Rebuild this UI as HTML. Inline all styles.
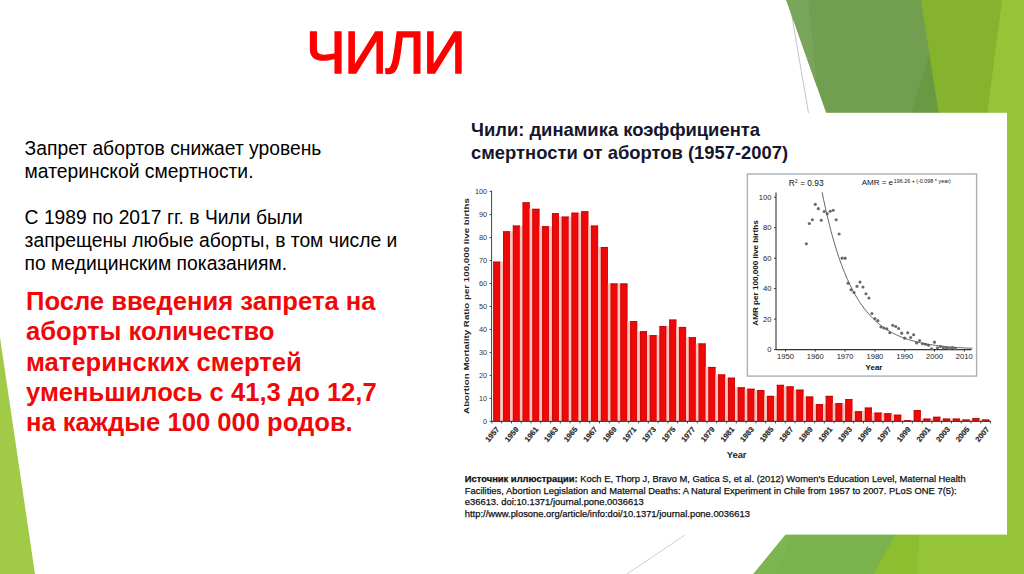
<!DOCTYPE html>
<html><head><meta charset="utf-8">
<style>
html,body{margin:0;padding:0;}
body{width:1024px;height:574px;position:relative;overflow:hidden;background:#fff;font-family:"Liberation Sans",Arial,sans-serif;}
.abs{position:absolute;}
svg text{font-family:"Liberation Sans",Arial,sans-serif;}
#title{left:306px;top:23px;font-size:59.5px;color:#ff0000;line-height:1;white-space:nowrap;-webkit-text-stroke:1.6px #ff0000;letter-spacing:-1.5px;}
#t1{left:24.6px;top:136.6px;font-size:19.3px;line-height:23px;color:#000;white-space:nowrap;}
#t2{left:26px;top:286px;font-size:25.6px;line-height:30.3px;color:#f00808;font-weight:bold;white-space:nowrap;}
</style></head><body>
<svg class="abs" style="left:0;top:0" width="1024" height="574" viewBox="0 0 1024 574">
<line x1="789.1" y1="0" x2="887.8" y2="574" stroke="#c2c2d0" stroke-width="1"/>
<line x1="1024" y1="306.7" x2="627" y2="574" stroke="#cfcfcf" stroke-width="1"/>
<polygon points="786.3,0 1024,0 1024,574 989,574" fill="#729e50"/>
<polygon points="786.3,0 808.3,0 817.4,88" fill="#79a55a"/>
<polygon points="929.5,54 939.8,120 909.4,120" fill="#6a9943"/>
<polygon points="921,0 1012,0 1000,120 939.8,120" fill="#86b32e"/>
<polygon points="1024,243.2 1024,574 753.4,574" fill="#7ab24b"/>
<polygon points="785.3,535 791,535 776,574 753.4,574" fill="#7eb553"/>
<polygon points="1024,299.2 1024,574 873.7,574" fill="#8cbe30"/>
<polygon points="1002,0 1024,0 1024,574 917.4,574 919.4,534.7 987.5,113" fill="#95c439"/>
<polygon points="0,337.5 0,574 35,574" fill="#a1ca47"/>
<rect x="443" y="112.8" width="564" height="421.8" fill="#ffffff"/>
<text x="471" y="136.1" font-family="Liberation Sans, Arial, sans-serif" font-weight="bold" font-size="18.4" fill="#16162a">Чили: динамика коэффициента</text>
<text x="471" y="159" font-family="Liberation Sans, Arial, sans-serif" font-weight="bold" font-size="18.4" fill="#16162a">смертности от абортов (1957-2007)</text>
<rect x="493.30" y="261.69" width="7.0" height="159.71" fill="#f00808"/>
<rect x="493.30" y="261.69" width="1" height="159.71" fill="#c80c0c"/>
<rect x="499.50" y="261.69" width="0.8" height="159.71" fill="#d00c0c"/>
<rect x="493.30" y="261.69" width="7.0" height="0.9" fill="#b80a0a"/>
<rect x="500.30" y="261.69" width="2.78" height="159.71" fill="#ffc4bc"/>
<rect x="503.08" y="231.36" width="7.0" height="190.04" fill="#f00808"/>
<rect x="503.08" y="231.36" width="1" height="190.04" fill="#c80c0c"/>
<rect x="509.28" y="231.36" width="0.8" height="190.04" fill="#d00c0c"/>
<rect x="503.08" y="231.36" width="7.0" height="0.9" fill="#b80a0a"/>
<rect x="510.08" y="231.36" width="2.78" height="190.04" fill="#ffc4bc"/>
<rect x="512.86" y="225.61" width="7.0" height="195.79" fill="#f00808"/>
<rect x="512.86" y="225.61" width="1" height="195.79" fill="#c80c0c"/>
<rect x="519.06" y="225.61" width="0.8" height="195.79" fill="#d00c0c"/>
<rect x="512.86" y="225.61" width="7.0" height="0.9" fill="#b80a0a"/>
<rect x="519.86" y="225.61" width="2.78" height="195.79" fill="#ffc4bc"/>
<rect x="522.63" y="202.40" width="7.0" height="219.00" fill="#f00808"/>
<rect x="522.63" y="202.40" width="1" height="219.00" fill="#c80c0c"/>
<rect x="528.83" y="202.40" width="0.8" height="219.00" fill="#d00c0c"/>
<rect x="522.63" y="202.40" width="7.0" height="0.9" fill="#b80a0a"/>
<rect x="529.63" y="208.83" width="2.78" height="212.56" fill="#ffc4bc"/>
<rect x="532.41" y="208.83" width="7.0" height="212.56" fill="#f00808"/>
<rect x="532.41" y="208.83" width="1" height="212.56" fill="#c80c0c"/>
<rect x="538.61" y="208.83" width="0.8" height="212.56" fill="#d00c0c"/>
<rect x="532.41" y="208.83" width="7.0" height="0.9" fill="#b80a0a"/>
<rect x="539.41" y="226.30" width="2.78" height="195.10" fill="#ffc4bc"/>
<rect x="542.19" y="226.30" width="7.0" height="195.10" fill="#f00808"/>
<rect x="542.19" y="226.30" width="1" height="195.10" fill="#c80c0c"/>
<rect x="548.39" y="226.30" width="0.8" height="195.10" fill="#d00c0c"/>
<rect x="542.19" y="226.30" width="7.0" height="0.9" fill="#b80a0a"/>
<rect x="549.19" y="226.30" width="2.78" height="195.10" fill="#ffc4bc"/>
<rect x="551.97" y="213.20" width="7.0" height="208.20" fill="#f00808"/>
<rect x="551.97" y="213.20" width="1" height="208.20" fill="#c80c0c"/>
<rect x="558.17" y="213.20" width="0.8" height="208.20" fill="#d00c0c"/>
<rect x="551.97" y="213.20" width="7.0" height="0.9" fill="#b80a0a"/>
<rect x="558.97" y="216.65" width="2.78" height="204.75" fill="#ffc4bc"/>
<rect x="561.75" y="216.65" width="7.0" height="204.75" fill="#f00808"/>
<rect x="561.75" y="216.65" width="1" height="204.75" fill="#c80c0c"/>
<rect x="567.95" y="216.65" width="0.8" height="204.75" fill="#d00c0c"/>
<rect x="561.75" y="216.65" width="7.0" height="0.9" fill="#b80a0a"/>
<rect x="568.75" y="216.65" width="2.78" height="204.75" fill="#ffc4bc"/>
<rect x="571.52" y="212.74" width="7.0" height="208.66" fill="#f00808"/>
<rect x="571.52" y="212.74" width="1" height="208.66" fill="#c80c0c"/>
<rect x="577.72" y="212.74" width="0.8" height="208.66" fill="#d00c0c"/>
<rect x="571.52" y="212.74" width="7.0" height="0.9" fill="#b80a0a"/>
<rect x="578.52" y="212.74" width="2.78" height="208.66" fill="#ffc4bc"/>
<rect x="581.30" y="211.36" width="7.0" height="210.04" fill="#f00808"/>
<rect x="581.30" y="211.36" width="1" height="210.04" fill="#c80c0c"/>
<rect x="587.50" y="211.36" width="0.8" height="210.04" fill="#d00c0c"/>
<rect x="581.30" y="211.36" width="7.0" height="0.9" fill="#b80a0a"/>
<rect x="588.30" y="225.61" width="2.78" height="195.79" fill="#ffc4bc"/>
<rect x="591.08" y="225.61" width="7.0" height="195.79" fill="#f00808"/>
<rect x="591.08" y="225.61" width="1" height="195.79" fill="#c80c0c"/>
<rect x="597.28" y="225.61" width="0.8" height="195.79" fill="#d00c0c"/>
<rect x="591.08" y="225.61" width="7.0" height="0.9" fill="#b80a0a"/>
<rect x="598.08" y="246.98" width="2.78" height="174.42" fill="#ffc4bc"/>
<rect x="600.86" y="246.98" width="7.0" height="174.42" fill="#f00808"/>
<rect x="600.86" y="246.98" width="1" height="174.42" fill="#c80c0c"/>
<rect x="607.06" y="246.98" width="0.8" height="174.42" fill="#d00c0c"/>
<rect x="600.86" y="246.98" width="7.0" height="0.9" fill="#b80a0a"/>
<rect x="607.86" y="283.52" width="2.78" height="137.88" fill="#ffc4bc"/>
<rect x="610.64" y="283.52" width="7.0" height="137.88" fill="#f00808"/>
<rect x="610.64" y="283.52" width="1" height="137.88" fill="#c80c0c"/>
<rect x="616.84" y="283.52" width="0.8" height="137.88" fill="#d00c0c"/>
<rect x="610.64" y="283.52" width="7.0" height="0.9" fill="#b80a0a"/>
<rect x="617.64" y="283.52" width="2.78" height="137.88" fill="#ffc4bc"/>
<rect x="620.41" y="283.52" width="7.0" height="137.88" fill="#f00808"/>
<rect x="620.41" y="283.52" width="1" height="137.88" fill="#c80c0c"/>
<rect x="626.61" y="283.52" width="0.8" height="137.88" fill="#d00c0c"/>
<rect x="620.41" y="283.52" width="7.0" height="0.9" fill="#b80a0a"/>
<rect x="627.41" y="321.21" width="2.78" height="100.19" fill="#ffc4bc"/>
<rect x="630.19" y="321.21" width="7.0" height="100.19" fill="#f00808"/>
<rect x="630.19" y="321.21" width="1" height="100.19" fill="#c80c0c"/>
<rect x="636.39" y="321.21" width="0.8" height="100.19" fill="#d00c0c"/>
<rect x="630.19" y="321.21" width="7.0" height="0.9" fill="#b80a0a"/>
<rect x="637.19" y="331.32" width="2.78" height="90.08" fill="#ffc4bc"/>
<rect x="639.97" y="331.32" width="7.0" height="90.08" fill="#f00808"/>
<rect x="639.97" y="331.32" width="1" height="90.08" fill="#c80c0c"/>
<rect x="646.17" y="331.32" width="0.8" height="90.08" fill="#d00c0c"/>
<rect x="639.97" y="331.32" width="7.0" height="0.9" fill="#b80a0a"/>
<rect x="646.97" y="335.22" width="2.78" height="86.17" fill="#ffc4bc"/>
<rect x="649.75" y="335.22" width="7.0" height="86.17" fill="#f00808"/>
<rect x="649.75" y="335.22" width="1" height="86.17" fill="#c80c0c"/>
<rect x="655.95" y="335.22" width="0.8" height="86.17" fill="#d00c0c"/>
<rect x="649.75" y="335.22" width="7.0" height="0.9" fill="#b80a0a"/>
<rect x="656.75" y="335.22" width="2.78" height="86.17" fill="#ffc4bc"/>
<rect x="659.53" y="326.03" width="7.0" height="95.37" fill="#f00808"/>
<rect x="659.53" y="326.03" width="1" height="95.37" fill="#c80c0c"/>
<rect x="665.73" y="326.03" width="0.8" height="95.37" fill="#d00c0c"/>
<rect x="659.53" y="326.03" width="7.0" height="0.9" fill="#b80a0a"/>
<rect x="666.53" y="326.03" width="2.78" height="95.37" fill="#ffc4bc"/>
<rect x="669.30" y="319.60" width="7.0" height="101.80" fill="#f00808"/>
<rect x="669.30" y="319.60" width="1" height="101.80" fill="#c80c0c"/>
<rect x="675.50" y="319.60" width="0.8" height="101.80" fill="#d00c0c"/>
<rect x="669.30" y="319.60" width="7.0" height="0.9" fill="#b80a0a"/>
<rect x="676.30" y="326.95" width="2.78" height="94.45" fill="#ffc4bc"/>
<rect x="679.08" y="326.95" width="7.0" height="94.45" fill="#f00808"/>
<rect x="679.08" y="326.95" width="1" height="94.45" fill="#c80c0c"/>
<rect x="685.28" y="326.95" width="0.8" height="94.45" fill="#d00c0c"/>
<rect x="679.08" y="326.95" width="7.0" height="0.9" fill="#b80a0a"/>
<rect x="686.08" y="337.29" width="2.78" height="84.11" fill="#ffc4bc"/>
<rect x="688.86" y="337.29" width="7.0" height="84.11" fill="#f00808"/>
<rect x="688.86" y="337.29" width="1" height="84.11" fill="#c80c0c"/>
<rect x="695.06" y="337.29" width="0.8" height="84.11" fill="#d00c0c"/>
<rect x="688.86" y="337.29" width="7.0" height="0.9" fill="#b80a0a"/>
<rect x="695.86" y="343.50" width="2.78" height="77.90" fill="#ffc4bc"/>
<rect x="698.64" y="343.50" width="7.0" height="77.90" fill="#f00808"/>
<rect x="698.64" y="343.50" width="1" height="77.90" fill="#c80c0c"/>
<rect x="704.84" y="343.50" width="0.8" height="77.90" fill="#d00c0c"/>
<rect x="698.64" y="343.50" width="7.0" height="0.9" fill="#b80a0a"/>
<rect x="705.64" y="366.94" width="2.78" height="54.46" fill="#ffc4bc"/>
<rect x="708.42" y="366.94" width="7.0" height="54.46" fill="#f00808"/>
<rect x="708.42" y="366.94" width="1" height="54.46" fill="#c80c0c"/>
<rect x="714.62" y="366.94" width="0.8" height="54.46" fill="#d00c0c"/>
<rect x="708.42" y="366.94" width="7.0" height="0.9" fill="#b80a0a"/>
<rect x="715.42" y="374.52" width="2.78" height="46.88" fill="#ffc4bc"/>
<rect x="718.19" y="374.52" width="7.0" height="46.88" fill="#f00808"/>
<rect x="718.19" y="374.52" width="1" height="46.88" fill="#c80c0c"/>
<rect x="724.39" y="374.52" width="0.8" height="46.88" fill="#d00c0c"/>
<rect x="718.19" y="374.52" width="7.0" height="0.9" fill="#b80a0a"/>
<rect x="725.19" y="377.74" width="2.78" height="43.66" fill="#ffc4bc"/>
<rect x="727.97" y="377.74" width="7.0" height="43.66" fill="#f00808"/>
<rect x="727.97" y="377.74" width="1" height="43.66" fill="#c80c0c"/>
<rect x="734.17" y="377.74" width="0.8" height="43.66" fill="#d00c0c"/>
<rect x="727.97" y="377.74" width="7.0" height="0.9" fill="#b80a0a"/>
<rect x="734.97" y="387.39" width="2.78" height="34.01" fill="#ffc4bc"/>
<rect x="737.75" y="387.39" width="7.0" height="34.01" fill="#f00808"/>
<rect x="737.75" y="387.39" width="1" height="34.01" fill="#c80c0c"/>
<rect x="743.95" y="387.39" width="0.8" height="34.01" fill="#d00c0c"/>
<rect x="737.75" y="387.39" width="7.0" height="0.9" fill="#b80a0a"/>
<rect x="744.75" y="388.77" width="2.78" height="32.63" fill="#ffc4bc"/>
<rect x="747.53" y="388.77" width="7.0" height="32.63" fill="#f00808"/>
<rect x="747.53" y="388.77" width="1" height="32.63" fill="#c80c0c"/>
<rect x="753.73" y="388.77" width="0.8" height="32.63" fill="#d00c0c"/>
<rect x="747.53" y="388.77" width="7.0" height="0.9" fill="#b80a0a"/>
<rect x="754.53" y="390.15" width="2.78" height="31.25" fill="#ffc4bc"/>
<rect x="757.31" y="390.15" width="7.0" height="31.25" fill="#f00808"/>
<rect x="757.31" y="390.15" width="1" height="31.25" fill="#c80c0c"/>
<rect x="763.51" y="390.15" width="0.8" height="31.25" fill="#d00c0c"/>
<rect x="757.31" y="390.15" width="7.0" height="0.9" fill="#b80a0a"/>
<rect x="764.31" y="395.89" width="2.78" height="25.51" fill="#ffc4bc"/>
<rect x="767.08" y="395.89" width="7.0" height="25.51" fill="#f00808"/>
<rect x="767.08" y="395.89" width="1" height="25.51" fill="#c80c0c"/>
<rect x="773.28" y="395.89" width="0.8" height="25.51" fill="#d00c0c"/>
<rect x="767.08" y="395.89" width="7.0" height="0.9" fill="#b80a0a"/>
<rect x="774.08" y="395.89" width="2.78" height="25.51" fill="#ffc4bc"/>
<rect x="776.86" y="384.86" width="7.0" height="36.54" fill="#f00808"/>
<rect x="776.86" y="384.86" width="1" height="36.54" fill="#c80c0c"/>
<rect x="783.06" y="384.86" width="0.8" height="36.54" fill="#d00c0c"/>
<rect x="776.86" y="384.86" width="7.0" height="0.9" fill="#b80a0a"/>
<rect x="783.86" y="386.47" width="2.78" height="34.93" fill="#ffc4bc"/>
<rect x="786.64" y="386.47" width="7.0" height="34.93" fill="#f00808"/>
<rect x="786.64" y="386.47" width="1" height="34.93" fill="#c80c0c"/>
<rect x="792.84" y="386.47" width="0.8" height="34.93" fill="#d00c0c"/>
<rect x="786.64" y="386.47" width="7.0" height="0.9" fill="#b80a0a"/>
<rect x="793.64" y="389.69" width="2.78" height="31.71" fill="#ffc4bc"/>
<rect x="796.42" y="389.69" width="7.0" height="31.71" fill="#f00808"/>
<rect x="796.42" y="389.69" width="1" height="31.71" fill="#c80c0c"/>
<rect x="802.62" y="389.69" width="0.8" height="31.71" fill="#d00c0c"/>
<rect x="796.42" y="389.69" width="7.0" height="0.9" fill="#b80a0a"/>
<rect x="803.42" y="396.58" width="2.78" height="24.82" fill="#ffc4bc"/>
<rect x="806.20" y="396.58" width="7.0" height="24.82" fill="#f00808"/>
<rect x="806.20" y="396.58" width="1" height="24.82" fill="#c80c0c"/>
<rect x="812.40" y="396.58" width="0.8" height="24.82" fill="#d00c0c"/>
<rect x="806.20" y="396.58" width="7.0" height="0.9" fill="#b80a0a"/>
<rect x="813.20" y="404.16" width="2.78" height="17.23" fill="#ffc4bc"/>
<rect x="815.97" y="404.16" width="7.0" height="17.23" fill="#f00808"/>
<rect x="815.97" y="404.16" width="1" height="17.23" fill="#c80c0c"/>
<rect x="822.17" y="404.16" width="0.8" height="17.23" fill="#d00c0c"/>
<rect x="815.97" y="404.16" width="7.0" height="0.9" fill="#b80a0a"/>
<rect x="822.97" y="404.16" width="2.78" height="17.23" fill="#ffc4bc"/>
<rect x="825.75" y="395.89" width="7.0" height="25.51" fill="#f00808"/>
<rect x="825.75" y="395.89" width="1" height="25.51" fill="#c80c0c"/>
<rect x="831.95" y="395.89" width="0.8" height="25.51" fill="#d00c0c"/>
<rect x="825.75" y="395.89" width="7.0" height="0.9" fill="#b80a0a"/>
<rect x="832.75" y="403.25" width="2.78" height="18.15" fill="#ffc4bc"/>
<rect x="835.53" y="403.25" width="7.0" height="18.15" fill="#f00808"/>
<rect x="835.53" y="403.25" width="1" height="18.15" fill="#c80c0c"/>
<rect x="841.73" y="403.25" width="0.8" height="18.15" fill="#d00c0c"/>
<rect x="835.53" y="403.25" width="7.0" height="0.9" fill="#b80a0a"/>
<rect x="842.53" y="403.25" width="2.78" height="18.15" fill="#ffc4bc"/>
<rect x="845.31" y="399.11" width="7.0" height="22.29" fill="#f00808"/>
<rect x="845.31" y="399.11" width="1" height="22.29" fill="#c80c0c"/>
<rect x="851.51" y="399.11" width="0.8" height="22.29" fill="#d00c0c"/>
<rect x="845.31" y="399.11" width="7.0" height="0.9" fill="#b80a0a"/>
<rect x="852.31" y="411.29" width="2.78" height="10.11" fill="#ffc4bc"/>
<rect x="855.09" y="411.29" width="7.0" height="10.11" fill="#f00808"/>
<rect x="855.09" y="411.29" width="1" height="10.11" fill="#c80c0c"/>
<rect x="861.29" y="411.29" width="0.8" height="10.11" fill="#d00c0c"/>
<rect x="855.09" y="411.29" width="7.0" height="0.9" fill="#b80a0a"/>
<rect x="862.09" y="411.29" width="2.78" height="10.11" fill="#ffc4bc"/>
<rect x="864.86" y="407.61" width="7.0" height="13.79" fill="#f00808"/>
<rect x="864.86" y="407.61" width="1" height="13.79" fill="#c80c0c"/>
<rect x="871.06" y="407.61" width="0.8" height="13.79" fill="#d00c0c"/>
<rect x="864.86" y="407.61" width="7.0" height="0.9" fill="#b80a0a"/>
<rect x="871.86" y="412.67" width="2.78" height="8.73" fill="#ffc4bc"/>
<rect x="874.64" y="412.67" width="7.0" height="8.73" fill="#f00808"/>
<rect x="874.64" y="412.67" width="1" height="8.73" fill="#c80c0c"/>
<rect x="880.84" y="412.67" width="0.8" height="8.73" fill="#d00c0c"/>
<rect x="874.64" y="412.67" width="7.0" height="0.9" fill="#b80a0a"/>
<rect x="881.64" y="413.36" width="2.78" height="8.04" fill="#ffc4bc"/>
<rect x="884.42" y="413.36" width="7.0" height="8.04" fill="#f00808"/>
<rect x="884.42" y="413.36" width="1" height="8.04" fill="#c80c0c"/>
<rect x="890.62" y="413.36" width="0.8" height="8.04" fill="#d00c0c"/>
<rect x="884.42" y="413.36" width="7.0" height="0.9" fill="#b80a0a"/>
<rect x="891.42" y="414.74" width="2.78" height="6.66" fill="#ffc4bc"/>
<rect x="894.20" y="414.74" width="7.0" height="6.66" fill="#f00808"/>
<rect x="894.20" y="414.74" width="1" height="6.66" fill="#c80c0c"/>
<rect x="900.40" y="414.74" width="0.8" height="6.66" fill="#d00c0c"/>
<rect x="894.20" y="414.74" width="7.0" height="0.9" fill="#b80a0a"/>
<rect x="901.20" y="420.02" width="2.78" height="1.38" fill="#ffc4bc"/>
<rect x="903.98" y="420.02" width="7.0" height="1.38" fill="#f00808"/>
<rect x="903.98" y="420.02" width="1" height="1.38" fill="#c80c0c"/>
<rect x="910.18" y="420.02" width="0.8" height="1.38" fill="#d00c0c"/>
<rect x="903.98" y="420.02" width="7.0" height="0.9" fill="#b80a0a"/>
<rect x="910.98" y="420.02" width="2.78" height="1.38" fill="#ffc4bc"/>
<rect x="913.75" y="410.14" width="7.0" height="11.26" fill="#f00808"/>
<rect x="913.75" y="410.14" width="1" height="11.26" fill="#c80c0c"/>
<rect x="919.95" y="410.14" width="0.8" height="11.26" fill="#d00c0c"/>
<rect x="913.75" y="410.14" width="7.0" height="0.9" fill="#b80a0a"/>
<rect x="920.75" y="418.64" width="2.78" height="2.76" fill="#ffc4bc"/>
<rect x="923.53" y="418.64" width="7.0" height="2.76" fill="#f00808"/>
<rect x="923.53" y="418.64" width="1" height="2.76" fill="#c80c0c"/>
<rect x="929.73" y="418.64" width="0.8" height="2.76" fill="#d00c0c"/>
<rect x="923.53" y="418.64" width="7.0" height="0.9" fill="#b80a0a"/>
<rect x="930.53" y="418.64" width="2.78" height="2.76" fill="#ffc4bc"/>
<rect x="933.31" y="416.80" width="7.0" height="4.60" fill="#f00808"/>
<rect x="933.31" y="416.80" width="1" height="4.60" fill="#c80c0c"/>
<rect x="939.51" y="416.80" width="0.8" height="4.60" fill="#d00c0c"/>
<rect x="933.31" y="416.80" width="7.0" height="0.9" fill="#b80a0a"/>
<rect x="940.31" y="418.64" width="2.78" height="2.76" fill="#ffc4bc"/>
<rect x="943.09" y="418.64" width="7.0" height="2.76" fill="#f00808"/>
<rect x="943.09" y="418.64" width="1" height="2.76" fill="#c80c0c"/>
<rect x="949.29" y="418.64" width="0.8" height="2.76" fill="#d00c0c"/>
<rect x="943.09" y="418.64" width="7.0" height="0.9" fill="#b80a0a"/>
<rect x="950.09" y="418.64" width="2.78" height="2.76" fill="#ffc4bc"/>
<rect x="952.87" y="418.64" width="7.0" height="2.76" fill="#f00808"/>
<rect x="952.87" y="418.64" width="1" height="2.76" fill="#c80c0c"/>
<rect x="959.07" y="418.64" width="0.8" height="2.76" fill="#d00c0c"/>
<rect x="952.87" y="418.64" width="7.0" height="0.9" fill="#b80a0a"/>
<rect x="959.87" y="419.56" width="2.78" height="1.84" fill="#ffc4bc"/>
<rect x="962.64" y="419.56" width="7.0" height="1.84" fill="#f00808"/>
<rect x="962.64" y="419.56" width="1" height="1.84" fill="#c80c0c"/>
<rect x="968.84" y="419.56" width="0.8" height="1.84" fill="#d00c0c"/>
<rect x="962.64" y="419.56" width="7.0" height="0.9" fill="#b80a0a"/>
<rect x="969.64" y="419.56" width="2.78" height="1.84" fill="#ffc4bc"/>
<rect x="972.42" y="418.18" width="7.0" height="3.22" fill="#f00808"/>
<rect x="972.42" y="418.18" width="1" height="3.22" fill="#c80c0c"/>
<rect x="978.62" y="418.18" width="0.8" height="3.22" fill="#d00c0c"/>
<rect x="972.42" y="418.18" width="7.0" height="0.9" fill="#b80a0a"/>
<rect x="979.42" y="419.56" width="2.78" height="1.84" fill="#ffc4bc"/>
<rect x="982.20" y="419.56" width="7.0" height="1.84" fill="#f00808"/>
<rect x="982.20" y="419.56" width="1" height="1.84" fill="#c80c0c"/>
<rect x="988.40" y="419.56" width="0.8" height="1.84" fill="#d00c0c"/>
<rect x="982.20" y="419.56" width="7.0" height="0.9" fill="#b80a0a"/>
<line x1="491.6" y1="190.5" x2="491.6" y2="421.4" stroke="#444" stroke-width="1"/>
<line x1="491.6" y1="421.4" x2="990.9780000000001" y2="421.4" stroke="#444" stroke-width="1.2"/>
<line x1="489.6" y1="421.40" x2="491.6" y2="421.40" stroke="#444" stroke-width="1"/>
<text x="487.1" y="423.90" text-anchor="end" font-size="7.3" fill="#333">0</text>
<line x1="489.6" y1="398.42" x2="491.6" y2="398.42" stroke="#444" stroke-width="1"/>
<text x="487.1" y="400.92" text-anchor="end" font-size="7.3" fill="#333">10</text>
<line x1="489.6" y1="375.44" x2="491.6" y2="375.44" stroke="#444" stroke-width="1"/>
<text x="487.1" y="377.94" text-anchor="end" font-size="7.3" fill="#333">20</text>
<line x1="489.6" y1="352.46" x2="491.6" y2="352.46" stroke="#444" stroke-width="1"/>
<text x="487.1" y="354.96" text-anchor="end" font-size="7.3" fill="#333">30</text>
<line x1="489.6" y1="329.48" x2="491.6" y2="329.48" stroke="#444" stroke-width="1"/>
<text x="487.1" y="331.98" text-anchor="end" font-size="7.3" fill="#333">40</text>
<line x1="489.6" y1="306.50" x2="491.6" y2="306.50" stroke="#444" stroke-width="1"/>
<text x="487.1" y="309.00" text-anchor="end" font-size="7.3" fill="#333">50</text>
<line x1="489.6" y1="283.52" x2="491.6" y2="283.52" stroke="#444" stroke-width="1"/>
<text x="487.1" y="286.02" text-anchor="end" font-size="7.3" fill="#333">60</text>
<line x1="489.6" y1="260.54" x2="491.6" y2="260.54" stroke="#444" stroke-width="1"/>
<text x="487.1" y="263.04" text-anchor="end" font-size="7.3" fill="#333">70</text>
<line x1="489.6" y1="237.56" x2="491.6" y2="237.56" stroke="#444" stroke-width="1"/>
<text x="487.1" y="240.06" text-anchor="end" font-size="7.3" fill="#333">80</text>
<line x1="489.6" y1="214.58" x2="491.6" y2="214.58" stroke="#444" stroke-width="1"/>
<text x="487.1" y="217.08" text-anchor="end" font-size="7.3" fill="#333">90</text>
<line x1="489.6" y1="191.60" x2="491.6" y2="191.60" stroke="#444" stroke-width="1"/>
<text x="487.1" y="194.10" text-anchor="end" font-size="7.3" fill="#333">100</text>
<line x1="491.90" y1="421.4" x2="491.90" y2="423.4" stroke="#444" stroke-width="1"/>
<line x1="501.68" y1="421.4" x2="501.68" y2="423.4" stroke="#444" stroke-width="1"/>
<line x1="511.46" y1="421.4" x2="511.46" y2="423.4" stroke="#444" stroke-width="1"/>
<line x1="521.23" y1="421.4" x2="521.23" y2="423.4" stroke="#444" stroke-width="1"/>
<line x1="531.01" y1="421.4" x2="531.01" y2="423.4" stroke="#444" stroke-width="1"/>
<line x1="540.79" y1="421.4" x2="540.79" y2="423.4" stroke="#444" stroke-width="1"/>
<line x1="550.57" y1="421.4" x2="550.57" y2="423.4" stroke="#444" stroke-width="1"/>
<line x1="560.35" y1="421.4" x2="560.35" y2="423.4" stroke="#444" stroke-width="1"/>
<line x1="570.12" y1="421.4" x2="570.12" y2="423.4" stroke="#444" stroke-width="1"/>
<line x1="579.90" y1="421.4" x2="579.90" y2="423.4" stroke="#444" stroke-width="1"/>
<line x1="589.68" y1="421.4" x2="589.68" y2="423.4" stroke="#444" stroke-width="1"/>
<line x1="599.46" y1="421.4" x2="599.46" y2="423.4" stroke="#444" stroke-width="1"/>
<line x1="609.24" y1="421.4" x2="609.24" y2="423.4" stroke="#444" stroke-width="1"/>
<line x1="619.01" y1="421.4" x2="619.01" y2="423.4" stroke="#444" stroke-width="1"/>
<line x1="628.79" y1="421.4" x2="628.79" y2="423.4" stroke="#444" stroke-width="1"/>
<line x1="638.57" y1="421.4" x2="638.57" y2="423.4" stroke="#444" stroke-width="1"/>
<line x1="648.35" y1="421.4" x2="648.35" y2="423.4" stroke="#444" stroke-width="1"/>
<line x1="658.13" y1="421.4" x2="658.13" y2="423.4" stroke="#444" stroke-width="1"/>
<line x1="667.90" y1="421.4" x2="667.90" y2="423.4" stroke="#444" stroke-width="1"/>
<line x1="677.68" y1="421.4" x2="677.68" y2="423.4" stroke="#444" stroke-width="1"/>
<line x1="687.46" y1="421.4" x2="687.46" y2="423.4" stroke="#444" stroke-width="1"/>
<line x1="697.24" y1="421.4" x2="697.24" y2="423.4" stroke="#444" stroke-width="1"/>
<line x1="707.02" y1="421.4" x2="707.02" y2="423.4" stroke="#444" stroke-width="1"/>
<line x1="716.79" y1="421.4" x2="716.79" y2="423.4" stroke="#444" stroke-width="1"/>
<line x1="726.57" y1="421.4" x2="726.57" y2="423.4" stroke="#444" stroke-width="1"/>
<line x1="736.35" y1="421.4" x2="736.35" y2="423.4" stroke="#444" stroke-width="1"/>
<line x1="746.13" y1="421.4" x2="746.13" y2="423.4" stroke="#444" stroke-width="1"/>
<line x1="755.91" y1="421.4" x2="755.91" y2="423.4" stroke="#444" stroke-width="1"/>
<line x1="765.68" y1="421.4" x2="765.68" y2="423.4" stroke="#444" stroke-width="1"/>
<line x1="775.46" y1="421.4" x2="775.46" y2="423.4" stroke="#444" stroke-width="1"/>
<line x1="785.24" y1="421.4" x2="785.24" y2="423.4" stroke="#444" stroke-width="1"/>
<line x1="795.02" y1="421.4" x2="795.02" y2="423.4" stroke="#444" stroke-width="1"/>
<line x1="804.80" y1="421.4" x2="804.80" y2="423.4" stroke="#444" stroke-width="1"/>
<line x1="814.57" y1="421.4" x2="814.57" y2="423.4" stroke="#444" stroke-width="1"/>
<line x1="824.35" y1="421.4" x2="824.35" y2="423.4" stroke="#444" stroke-width="1"/>
<line x1="834.13" y1="421.4" x2="834.13" y2="423.4" stroke="#444" stroke-width="1"/>
<line x1="843.91" y1="421.4" x2="843.91" y2="423.4" stroke="#444" stroke-width="1"/>
<line x1="853.69" y1="421.4" x2="853.69" y2="423.4" stroke="#444" stroke-width="1"/>
<line x1="863.46" y1="421.4" x2="863.46" y2="423.4" stroke="#444" stroke-width="1"/>
<line x1="873.24" y1="421.4" x2="873.24" y2="423.4" stroke="#444" stroke-width="1"/>
<line x1="883.02" y1="421.4" x2="883.02" y2="423.4" stroke="#444" stroke-width="1"/>
<line x1="892.80" y1="421.4" x2="892.80" y2="423.4" stroke="#444" stroke-width="1"/>
<line x1="902.58" y1="421.4" x2="902.58" y2="423.4" stroke="#444" stroke-width="1"/>
<line x1="912.35" y1="421.4" x2="912.35" y2="423.4" stroke="#444" stroke-width="1"/>
<line x1="922.13" y1="421.4" x2="922.13" y2="423.4" stroke="#444" stroke-width="1"/>
<line x1="931.91" y1="421.4" x2="931.91" y2="423.4" stroke="#444" stroke-width="1"/>
<line x1="941.69" y1="421.4" x2="941.69" y2="423.4" stroke="#444" stroke-width="1"/>
<line x1="951.47" y1="421.4" x2="951.47" y2="423.4" stroke="#444" stroke-width="1"/>
<line x1="961.24" y1="421.4" x2="961.24" y2="423.4" stroke="#444" stroke-width="1"/>
<line x1="971.02" y1="421.4" x2="971.02" y2="423.4" stroke="#444" stroke-width="1"/>
<line x1="980.80" y1="421.4" x2="980.80" y2="423.4" stroke="#444" stroke-width="1"/>
<line x1="990.58" y1="421.4" x2="990.58" y2="423.4" stroke="#444" stroke-width="1"/>
<text transform="translate(499.60,429.5) rotate(-50)" text-anchor="end" font-size="7.6" font-weight="bold" fill="#2a2a2a" stroke="#2a2a2a" stroke-width="0.2">1957</text>
<text transform="translate(519.20,429.5) rotate(-50)" text-anchor="end" font-size="7.6" font-weight="bold" fill="#2a2a2a" stroke="#2a2a2a" stroke-width="0.2">1959</text>
<text transform="translate(538.80,429.5) rotate(-50)" text-anchor="end" font-size="7.6" font-weight="bold" fill="#2a2a2a" stroke="#2a2a2a" stroke-width="0.2">1961</text>
<text transform="translate(558.40,429.5) rotate(-50)" text-anchor="end" font-size="7.6" font-weight="bold" fill="#2a2a2a" stroke="#2a2a2a" stroke-width="0.2">1963</text>
<text transform="translate(578.00,429.5) rotate(-50)" text-anchor="end" font-size="7.6" font-weight="bold" fill="#2a2a2a" stroke="#2a2a2a" stroke-width="0.2">1965</text>
<text transform="translate(597.60,429.5) rotate(-50)" text-anchor="end" font-size="7.6" font-weight="bold" fill="#2a2a2a" stroke="#2a2a2a" stroke-width="0.2">1967</text>
<text transform="translate(617.20,429.5) rotate(-50)" text-anchor="end" font-size="7.6" font-weight="bold" fill="#2a2a2a" stroke="#2a2a2a" stroke-width="0.2">1969</text>
<text transform="translate(636.80,429.5) rotate(-50)" text-anchor="end" font-size="7.6" font-weight="bold" fill="#2a2a2a" stroke="#2a2a2a" stroke-width="0.2">1971</text>
<text transform="translate(656.40,429.5) rotate(-50)" text-anchor="end" font-size="7.6" font-weight="bold" fill="#2a2a2a" stroke="#2a2a2a" stroke-width="0.2">1973</text>
<text transform="translate(676.00,429.5) rotate(-50)" text-anchor="end" font-size="7.6" font-weight="bold" fill="#2a2a2a" stroke="#2a2a2a" stroke-width="0.2">1975</text>
<text transform="translate(695.60,429.5) rotate(-50)" text-anchor="end" font-size="7.6" font-weight="bold" fill="#2a2a2a" stroke="#2a2a2a" stroke-width="0.2">1977</text>
<text transform="translate(715.20,429.5) rotate(-50)" text-anchor="end" font-size="7.6" font-weight="bold" fill="#2a2a2a" stroke="#2a2a2a" stroke-width="0.2">1979</text>
<text transform="translate(734.80,429.5) rotate(-50)" text-anchor="end" font-size="7.6" font-weight="bold" fill="#2a2a2a" stroke="#2a2a2a" stroke-width="0.2">1981</text>
<text transform="translate(754.40,429.5) rotate(-50)" text-anchor="end" font-size="7.6" font-weight="bold" fill="#2a2a2a" stroke="#2a2a2a" stroke-width="0.2">1983</text>
<text transform="translate(774.00,429.5) rotate(-50)" text-anchor="end" font-size="7.6" font-weight="bold" fill="#2a2a2a" stroke="#2a2a2a" stroke-width="0.2">1985</text>
<text transform="translate(793.60,429.5) rotate(-50)" text-anchor="end" font-size="7.6" font-weight="bold" fill="#2a2a2a" stroke="#2a2a2a" stroke-width="0.2">1987</text>
<text transform="translate(813.20,429.5) rotate(-50)" text-anchor="end" font-size="7.6" font-weight="bold" fill="#2a2a2a" stroke="#2a2a2a" stroke-width="0.2">1989</text>
<text transform="translate(832.80,429.5) rotate(-50)" text-anchor="end" font-size="7.6" font-weight="bold" fill="#2a2a2a" stroke="#2a2a2a" stroke-width="0.2">1991</text>
<text transform="translate(852.40,429.5) rotate(-50)" text-anchor="end" font-size="7.6" font-weight="bold" fill="#2a2a2a" stroke="#2a2a2a" stroke-width="0.2">1993</text>
<text transform="translate(872.00,429.5) rotate(-50)" text-anchor="end" font-size="7.6" font-weight="bold" fill="#2a2a2a" stroke="#2a2a2a" stroke-width="0.2">1995</text>
<text transform="translate(891.60,429.5) rotate(-50)" text-anchor="end" font-size="7.6" font-weight="bold" fill="#2a2a2a" stroke="#2a2a2a" stroke-width="0.2">1997</text>
<text transform="translate(911.20,429.5) rotate(-50)" text-anchor="end" font-size="7.6" font-weight="bold" fill="#2a2a2a" stroke="#2a2a2a" stroke-width="0.2">1999</text>
<text transform="translate(930.80,429.5) rotate(-50)" text-anchor="end" font-size="7.6" font-weight="bold" fill="#2a2a2a" stroke="#2a2a2a" stroke-width="0.2">2001</text>
<text transform="translate(950.40,429.5) rotate(-50)" text-anchor="end" font-size="7.6" font-weight="bold" fill="#2a2a2a" stroke="#2a2a2a" stroke-width="0.2">2003</text>
<text transform="translate(970.00,429.5) rotate(-50)" text-anchor="end" font-size="7.6" font-weight="bold" fill="#2a2a2a" stroke="#2a2a2a" stroke-width="0.2">2005</text>
<text transform="translate(989.60,429.5) rotate(-50)" text-anchor="end" font-size="7.6" font-weight="bold" fill="#2a2a2a" stroke="#2a2a2a" stroke-width="0.2">2007</text>
<text x="736.6" y="458.4" text-anchor="middle" font-size="9.4" font-weight="bold" fill="#222">Year</text>
<text transform="translate(468.8,306) rotate(-90) scale(1.32,1)" text-anchor="middle" font-size="7.4" font-weight="bold" fill="#222">Abortion Mortality Ratio per 100,000 live births</text>
<rect x="747.4" y="174" width="229.2" height="202.1" fill="#fff" stroke="#a8b0b6" stroke-width="1.4"/>
<line x1="776" y1="192.5" x2="776" y2="349.6" stroke="#333" stroke-width="1.1"/>
<line x1="776" y1="349.6" x2="971.5" y2="349.6" stroke="#333" stroke-width="1.1"/>
<line x1="774" y1="349.60" x2="776" y2="349.60" stroke="#333" stroke-width="1"/>
<text x="771.5" y="352.40" text-anchor="end" font-size="7.6" fill="#222">0</text>
<line x1="774" y1="319.12" x2="776" y2="319.12" stroke="#333" stroke-width="1"/>
<text x="771.5" y="321.92" text-anchor="end" font-size="7.6" fill="#222">20</text>
<line x1="774" y1="288.64" x2="776" y2="288.64" stroke="#333" stroke-width="1"/>
<text x="771.5" y="291.44" text-anchor="end" font-size="7.6" fill="#222">40</text>
<line x1="774" y1="258.16" x2="776" y2="258.16" stroke="#333" stroke-width="1"/>
<text x="771.5" y="260.96" text-anchor="end" font-size="7.6" fill="#222">60</text>
<line x1="774" y1="227.68" x2="776" y2="227.68" stroke="#333" stroke-width="1"/>
<text x="771.5" y="230.48" text-anchor="end" font-size="7.6" fill="#222">80</text>
<line x1="774" y1="197.20" x2="776" y2="197.20" stroke="#333" stroke-width="1"/>
<text x="771.5" y="200.00" text-anchor="end" font-size="7.6" fill="#222">100</text>
<line x1="785.50" y1="349.6" x2="785.50" y2="351.6" stroke="#333" stroke-width="1"/>
<text x="785.50" y="359.2" text-anchor="middle" font-size="7.6" fill="#222">1950</text>
<line x1="815.30" y1="349.6" x2="815.30" y2="351.6" stroke="#333" stroke-width="1"/>
<text x="815.30" y="359.2" text-anchor="middle" font-size="7.6" fill="#222">1960</text>
<line x1="845.10" y1="349.6" x2="845.10" y2="351.6" stroke="#333" stroke-width="1"/>
<text x="845.10" y="359.2" text-anchor="middle" font-size="7.6" fill="#222">1970</text>
<line x1="874.90" y1="349.6" x2="874.90" y2="351.6" stroke="#333" stroke-width="1"/>
<text x="874.90" y="359.2" text-anchor="middle" font-size="7.6" fill="#222">1980</text>
<line x1="904.70" y1="349.6" x2="904.70" y2="351.6" stroke="#333" stroke-width="1"/>
<text x="904.70" y="359.2" text-anchor="middle" font-size="7.6" fill="#222">1990</text>
<line x1="934.50" y1="349.6" x2="934.50" y2="351.6" stroke="#333" stroke-width="1"/>
<text x="934.50" y="359.2" text-anchor="middle" font-size="7.6" fill="#222">2000</text>
<line x1="964.30" y1="349.6" x2="964.30" y2="351.6" stroke="#333" stroke-width="1"/>
<text x="964.30" y="359.2" text-anchor="middle" font-size="7.6" fill="#222">2010</text>
<text x="874" y="369.5" text-anchor="middle" font-size="8" font-weight="bold" fill="#111">Year</text>
<text transform="translate(757.5,273) rotate(-90)" text-anchor="middle" font-size="8.1" font-weight="bold" fill="#111">AMR per 100,000 live births</text>
<text x="788.7" y="186" font-size="8.4" fill="#111">R<tspan dy="-3" font-size="5.5">2</tspan><tspan dy="3"> = 0.93</tspan></text>
<text x="861.7" y="185.3" font-size="8" fill="#111">AMR = e<tspan dx="0.6" dy="-2.8" font-size="5.4">196.26 + (-0.098 * year)</tspan></text>
<circle cx="806.36" cy="243.68" r="1.55" fill="#6a6a6a"/>
<circle cx="809.34" cy="223.57" r="1.55" fill="#6a6a6a"/>
<circle cx="812.32" cy="219.76" r="1.55" fill="#6a6a6a"/>
<circle cx="815.30" cy="204.36" r="1.55" fill="#6a6a6a"/>
<circle cx="818.28" cy="208.63" r="1.55" fill="#6a6a6a"/>
<circle cx="821.26" cy="220.21" r="1.55" fill="#6a6a6a"/>
<circle cx="824.24" cy="211.53" r="1.55" fill="#6a6a6a"/>
<circle cx="827.22" cy="213.81" r="1.55" fill="#6a6a6a"/>
<circle cx="830.20" cy="211.22" r="1.55" fill="#6a6a6a"/>
<circle cx="833.18" cy="210.31" r="1.55" fill="#6a6a6a"/>
<circle cx="836.16" cy="219.76" r="1.55" fill="#6a6a6a"/>
<circle cx="839.14" cy="233.93" r="1.55" fill="#6a6a6a"/>
<circle cx="842.12" cy="258.16" r="1.55" fill="#6a6a6a"/>
<circle cx="845.10" cy="258.16" r="1.55" fill="#6a6a6a"/>
<circle cx="848.08" cy="283.15" r="1.55" fill="#6a6a6a"/>
<circle cx="851.06" cy="289.86" r="1.55" fill="#6a6a6a"/>
<circle cx="854.04" cy="292.45" r="1.55" fill="#6a6a6a"/>
<circle cx="857.02" cy="286.35" r="1.55" fill="#6a6a6a"/>
<circle cx="860.00" cy="282.09" r="1.55" fill="#6a6a6a"/>
<circle cx="862.98" cy="286.96" r="1.55" fill="#6a6a6a"/>
<circle cx="865.96" cy="293.82" r="1.55" fill="#6a6a6a"/>
<circle cx="868.94" cy="297.94" r="1.55" fill="#6a6a6a"/>
<circle cx="871.92" cy="313.48" r="1.55" fill="#6a6a6a"/>
<circle cx="874.90" cy="318.51" r="1.55" fill="#6a6a6a"/>
<circle cx="877.88" cy="320.64" r="1.55" fill="#6a6a6a"/>
<circle cx="880.86" cy="327.04" r="1.55" fill="#6a6a6a"/>
<circle cx="883.84" cy="327.96" r="1.55" fill="#6a6a6a"/>
<circle cx="886.82" cy="328.87" r="1.55" fill="#6a6a6a"/>
<circle cx="889.80" cy="332.68" r="1.55" fill="#6a6a6a"/>
<circle cx="892.78" cy="325.37" r="1.55" fill="#6a6a6a"/>
<circle cx="895.76" cy="326.44" r="1.55" fill="#6a6a6a"/>
<circle cx="898.74" cy="328.57" r="1.55" fill="#6a6a6a"/>
<circle cx="901.72" cy="333.14" r="1.55" fill="#6a6a6a"/>
<circle cx="904.70" cy="338.17" r="1.55" fill="#6a6a6a"/>
<circle cx="907.68" cy="332.68" r="1.55" fill="#6a6a6a"/>
<circle cx="910.66" cy="337.56" r="1.55" fill="#6a6a6a"/>
<circle cx="913.64" cy="334.82" r="1.55" fill="#6a6a6a"/>
<circle cx="916.62" cy="342.89" r="1.55" fill="#6a6a6a"/>
<circle cx="919.60" cy="340.46" r="1.55" fill="#6a6a6a"/>
<circle cx="922.58" cy="343.81" r="1.55" fill="#6a6a6a"/>
<circle cx="925.56" cy="344.27" r="1.55" fill="#6a6a6a"/>
<circle cx="928.54" cy="345.18" r="1.55" fill="#6a6a6a"/>
<circle cx="931.52" cy="348.69" r="1.55" fill="#6a6a6a"/>
<circle cx="934.50" cy="342.13" r="1.55" fill="#6a6a6a"/>
<circle cx="937.48" cy="347.77" r="1.55" fill="#6a6a6a"/>
<circle cx="940.46" cy="346.55" r="1.55" fill="#6a6a6a"/>
<circle cx="943.44" cy="347.77" r="1.55" fill="#6a6a6a"/>
<circle cx="946.42" cy="347.77" r="1.55" fill="#6a6a6a"/>
<circle cx="949.40" cy="348.38" r="1.55" fill="#6a6a6a"/>
<circle cx="952.38" cy="347.47" r="1.55" fill="#6a6a6a"/>
<circle cx="955.36" cy="348.38" r="1.55" fill="#6a6a6a"/>
<polyline points="822.15,192.32 823.64,199.62 825.13,206.58 826.62,213.21 828.11,219.54 829.60,225.57 831.09,231.33 832.58,236.81 834.07,242.04 835.56,247.03 837.05,251.79 838.54,256.33 840.03,260.66 841.52,264.78 843.01,268.72 844.50,272.47 845.99,276.05 847.48,279.46 848.97,282.71 850.46,285.82 851.95,288.77 853.44,291.60 854.93,294.29 856.42,296.85 857.91,299.30 859.40,301.63 860.89,303.86 862.38,305.98 863.87,308.00 865.36,309.93 866.85,311.77 868.34,313.53 869.83,315.20 871.32,316.80 872.81,318.32 874.30,319.77 875.79,321.15 877.28,322.47 878.77,323.73 880.26,324.93 881.75,326.08 883.24,327.17 884.73,328.21 886.22,329.20 887.71,330.15 889.20,331.05 890.69,331.91 892.18,332.73 893.67,333.51 895.16,334.26 896.65,334.97 898.14,335.65 899.63,336.30 901.12,336.91 902.61,337.50 904.10,338.06 905.59,338.60 907.08,339.11 908.57,339.60 910.06,340.06 911.55,340.50 913.04,340.92 914.53,341.33 916.02,341.71 917.51,342.08 919.00,342.43 920.49,342.76 921.98,343.08 923.47,343.38 924.96,343.67 926.45,343.94 927.94,344.20 929.43,344.46 930.92,344.69 932.41,344.92 933.90,345.14 935.39,345.35 936.88,345.54 938.37,345.73 939.86,345.91 941.35,346.08 942.84,346.24 944.33,346.40 945.82,346.55 947.31,346.69 948.80,346.83 950.29,346.95 951.78,347.08 953.27,347.19 954.76,347.31 956.25,347.41 957.74,347.51 959.23,347.61 960.72,347.70 962.21,347.79 963.70,347.87 965.19,347.95 966.68,348.03 968.17,348.10 969.66,348.17 971.15,348.24 972.64,348.30" fill="none" stroke="#555" stroke-width="0.9"/>
<text x="464.8" y="482.1" font-size="9.4" fill="#111" stroke="#111" stroke-width="0.25"><tspan font-weight="bold">Источник иллюстрации:</tspan> Koch E, Thorp J, Bravo M, Gatica S, et al. (2012) Women's Education Level, Maternal Health</text>
<text x="464.8" y="493.8" font-size="9.4" fill="#111" stroke="#111" stroke-width="0.25">Facilities, Abortion Legislation and Maternal Deaths: A Natural Experiment in Chile from 1957 to 2007. PLoS ONE 7(5):</text>
<text x="464.8" y="505.4" font-size="9.4" fill="#111" stroke="#111" stroke-width="0.25">e36613. doi:10.1371/journal.pone.0036613</text>
<text x="464.8" y="517.3" font-size="9.4" fill="#111" stroke="#111" stroke-width="0.25">http://www.plosone.org/article/info:doi/10.1371/journal.pone.0036613</text>
</svg>
<div id="title" class="abs">ЧИЛИ</div>
<div id="t1" class="abs">Запрет абортов снижает уровень<br>материнской смертности.<br><br>С 1989 по 2017 гг. в Чили были<br>запрещены любые аборты, в том числе и<br>по медицинским показаниям.</div>
<div id="t2" class="abs">После введения запрета на<br>аборты количество<br>материнских смертей<br>уменьшилось с 41,3 до 12,7<br>на каждые 100 000 родов.</div>
</body></html>
